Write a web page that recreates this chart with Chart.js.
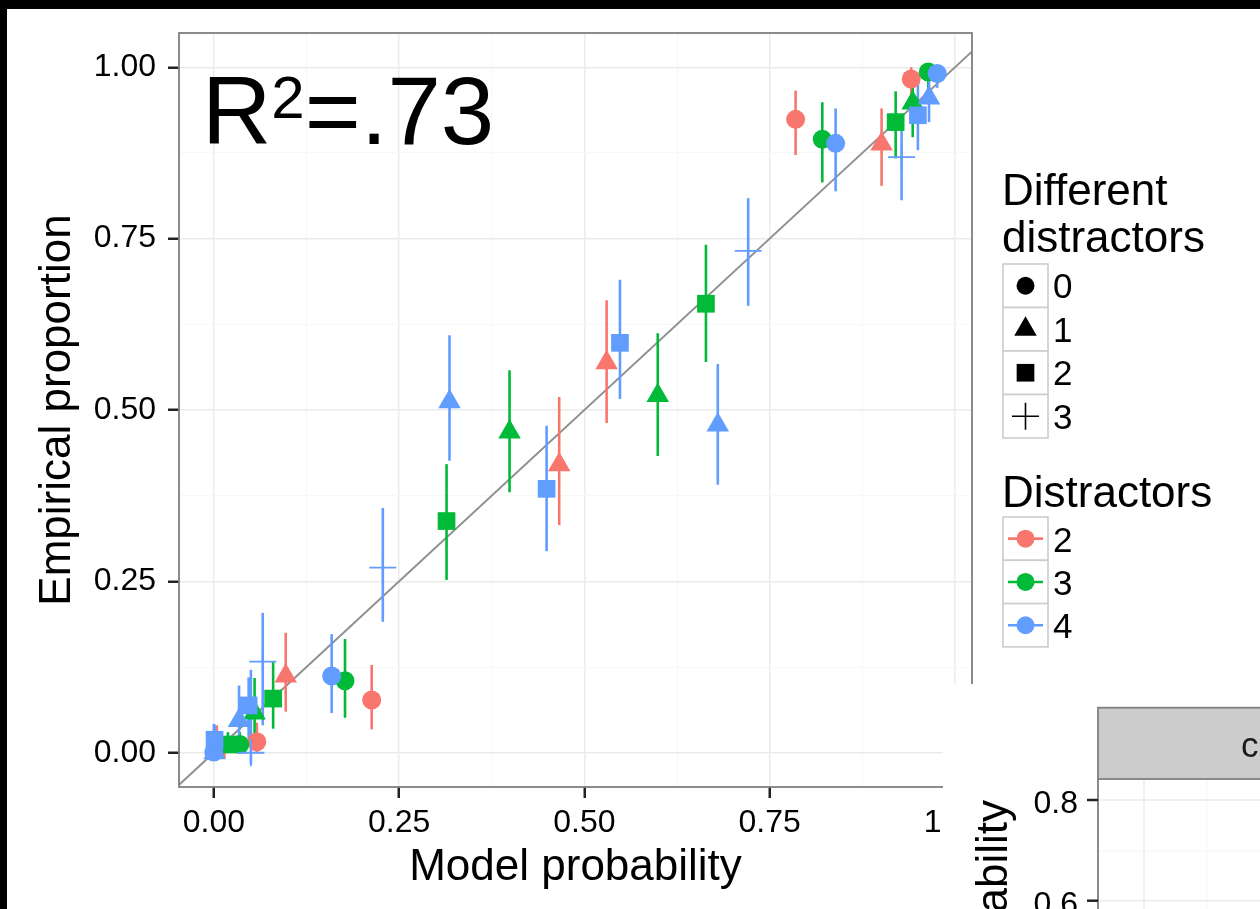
<!DOCTYPE html>
<html>
<head>
<meta charset="utf-8">
<script src="https://cdn.jsdelivr.net/npm/chart.js@4.4.0/dist/chart.umd.min.js"></script>
<style>
  html, body { margin: 0; padding: 0; background: #000; }
  #wrap { position: absolute; left: 7px; top: 9px; width: 1253px; height: 900px; background: #fff; overflow: hidden; }
</style>
</head>
<body>
<div id="wrap"><canvas id="grafico" width="1253" height="900"></canvas></div>
<script>
// Limites dos eixos e marcas
const xMin = -0.047, xMax = 1.023;
const yMin = -0.05, yMax = 1.05;
const majorTicks = [0, 0.25, 0.5, 0.75, 1];
const tickStep = 0.125;

// Legendas
const diffLabels = ['0', '1', '2', '3'];
const distLabels = ['2', '3', '4'];
const distColors = ['#F8766D', '#00BA38', '#619CFF'];
const shapeStyles = ['circle', 'triangle', 'rect', 'cross'];
const shapeRadius = [9.5, 13, 12.5, 13.5];

// Linha y = x
const diagLine = [-0.1, 1.1];

// Pontos: [modelo, empírico, IC inferior, IC superior]
// Distractors = 2
const d2Diff0 = [
  [0.785, 0.924, 0.872, 0.966],
  [0.941, 0.983, 0.956, 1.000],
  [0.213, 0.077, 0.034, 0.128],
  [0.058, 0.016, 0.001, 0.044]
];
const d2Diff1 = [
  [0.901, 0.888, 0.827, 0.940],
  [0.530, 0.569, 0.481, 0.660],
  [0.466, 0.420, 0.332, 0.519],
  [0.097, 0.112, 0.060, 0.175]
];
const d2Diff2 = [
  [0.004, 0.004, 0.000, 0.040]
];
// Distractors = 3
const d3Diff0 = [
  [0.821, 0.895, 0.832, 0.949],
  [0.964, 0.993, 0.965, 1.000],
  [0.177, 0.105, 0.051, 0.166],
  [0.035, 0.012, 0.000, 0.030]
];
const d3Diff1 = [
  [0.943, 0.948, 0.898, 0.977],
  [0.599, 0.521, 0.433, 0.612],
  [0.399, 0.468, 0.380, 0.558],
  [0.055, 0.058, 0.008, 0.109]
];
const d3Diff2 = [
  [0.920, 0.920, 0.867, 0.965],
  [0.664, 0.655, 0.570, 0.741],
  [0.314, 0.338, 0.252, 0.421],
  [0.080, 0.079, 0.035, 0.133],
  [0.019, 0.012, 0.000, 0.030]
];
// Distractors = 4
const d4Diff0 = [
  [0.839, 0.889, 0.819, 0.940],
  [0.976, 0.991, 0.970, 1.000],
  [0.159, 0.112, 0.058, 0.173],
  [0.000, 0.001, -0.010, 0.042]
];
const d4Diff1 = [
  [0.965, 0.955, 0.920, 0.991],
  [0.680, 0.478, 0.391, 0.567],
  [0.318, 0.512, 0.426, 0.609],
  [0.034, 0.047, 0.012, 0.098],
  [0.001, 0.000, -0.010, 0.020]
];
const d4Diff2 = [
  [0.950, 0.930, 0.879, 0.977],
  [0.548, 0.598, 0.516, 0.690],
  [0.449, 0.385, 0.294, 0.477],
  [0.047, 0.069, 0.020, 0.110],
  [0.001, 0.019, 0.000, 0.041]
];
const d4Diff3 = [
  [0.928, 0.869, 0.806, 0.923],
  [0.721, 0.732, 0.652, 0.809],
  [0.228, 0.270, 0.191, 0.357],
  [0.066, 0.133, 0.040, 0.204],
  [0.050, 0.000, -0.017, 0.121]
];

// ordem de desenho: vermelho embaixo, azul em cima
const series = [
  { dist: 0, diff: 0, pts: d2Diff0 },
  { dist: 0, diff: 1, pts: d2Diff1 },
  { dist: 0, diff: 2, pts: d2Diff2 },
  { dist: 1, diff: 0, pts: d3Diff0 },
  { dist: 1, diff: 1, pts: d3Diff1 },
  { dist: 1, diff: 2, pts: d3Diff2 },
  { dist: 2, diff: 0, pts: d4Diff0 },
  { dist: 2, diff: 1, pts: d4Diff1 },
  { dist: 2, diff: 2, pts: d4Diff2 },
  { dist: 2, diff: 3, pts: d4Diff3 }
];

const fonte = "'Liberation Sans', Arial, Helvetica, sans-serif";
Chart.defaults.font.family = fonte;
Chart.defaults.color = '#000';

function isMajor(v) {
  return majorTicks.some(m => Math.abs(m - v) < 1e-6);
}

const datasets = series.map((s, i) => ({
  label: `Distractors ${distLabels[s.dist]} / Different ${diffLabels[s.diff]}`,
  data: s.pts.map(p => ({ x: p[0], y: p[1] })),
  pointStyle: shapeStyles[s.diff],
  pointRadius: shapeRadius[s.diff],
  pointHoverRadius: shapeRadius[s.diff],
  backgroundColor: distColors[s.dist],
  borderColor: distColors[s.dist],
  borderWidth: s.diff === 3 ? 1.8 : 0,
  clip: 0,
  order: series.length - i
}));

datasets.push({
  type: 'line',
  label: 'y = x',
  data: diagLine.map(v => ({ x: v, y: v })),
  borderColor: '#8F8F8F',
  borderWidth: 2,
  pointRadius: 0,
  clip: 0,
  order: 100
});

// Barras de erro (desenhadas logo depois da diagonal, antes dos pontos)
const barrasErro = {
  id: 'barrasErro',
  afterDatasetDraw(chart, args) {
    if (args.meta.type !== 'line') return;
    const { ctx, chartArea, scales: { x, y } } = chart;
    ctx.save();
    ctx.beginPath();
    ctx.rect(chartArea.left, chartArea.top, chartArea.right - chartArea.left, chartArea.bottom - chartArea.top);
    ctx.clip();
    ctx.lineWidth = 2.6;
    series.forEach(s => {
      ctx.strokeStyle = distColors[s.dist];
      s.pts.forEach(p => {
        const px = x.getPixelForValue(p[0]);
        ctx.beginPath();
        ctx.moveTo(px, y.getPixelForValue(p[2]));
        ctx.lineTo(px, y.getPixelForValue(p[3]));
        ctx.stroke();
      });
    });
    ctx.restore();
  }
};

// Borda do painel e anotação R²
const painel = {
  id: 'painel',
  afterDatasetsDraw(chart) {
    const { ctx, chartArea } = chart;
    ctx.save();
    ctx.fillStyle = '#000';
    ctx.textBaseline = 'alphabetic';
    ctx.textAlign = 'left';
    let tx = chartArea.left + 23;
    const ty = chartArea.top + 111;
    ctx.font = `96px ${fonte}`;
    ctx.fillText('R', tx, ty);
    tx += ctx.measureText('R').width;
    ctx.font = `60px ${fonte}`;
    ctx.fillText('2', tx, ty - 26);
    tx += ctx.measureText('2').width;
    ctx.font = `96px ${fonte}`;
    ctx.fillText('=.73', tx, ty);

    ctx.strokeStyle = '#7F7F7F';
    ctx.lineWidth = 1.8;
    ctx.strokeRect(chartArea.left, chartArea.top, chartArea.right - chartArea.left, chartArea.bottom - chartArea.top);
    ctx.restore();
  }
};

// Legendas à direita + pedaço da figura vizinha
const legendas = {
  id: 'legendas',
  afterDraw(chart) {
    const ctx = chart.ctx;
    const boxX = 996, boxW = 45, keyX = boxX + boxW / 2, labelX = 1046;
    ctx.save();
    ctx.fillStyle = '#000';
    ctx.textAlign = 'left';
    ctx.textBaseline = 'alphabetic';
    ctx.font = `44px ${fonte}`;
    ctx.fillText('Different', 995, 196);
    ctx.fillText('distractors', 995, 243);

    const h1 = 43.5, top1 = 255;
    diffLabels.forEach((lab, i) => {
      const by = top1 + i * h1;
      ctx.fillStyle = '#fff';
      ctx.fillRect(boxX, by, boxW, h1);
      ctx.strokeStyle = '#CCCCCC';
      ctx.lineWidth = 1.6;
      ctx.strokeRect(boxX, by, boxW, h1);
      ctx.fillStyle = '#000';
      ctx.strokeStyle = '#000';
      ctx.lineWidth = 1.6;
      Chart.helpers.drawPoint(ctx, {
        pointStyle: shapeStyles[i], radius: i === 0 ? 9 : shapeRadius[i],
        rotation: 0, borderWidth: i === 3 ? 1.6 : 0
      }, keyX, by + h1 / 2);
      ctx.font = `35px ${fonte}`;
      ctx.fillText(lab, labelX, by + h1 / 2 + 12.5);
    });

    ctx.font = `44px ${fonte}`;
    ctx.fillText('Distractors', 995, 498);
    const h2 = 43.3, top2 = 508;
    distLabels.forEach((lab, i) => {
      const by = top2 + i * h2;
      const cy = by + h2 / 2;
      ctx.fillStyle = '#fff';
      ctx.fillRect(boxX, by, boxW, h2);
      ctx.strokeStyle = '#CCCCCC';
      ctx.lineWidth = 1.6;
      ctx.strokeRect(boxX, by, boxW, h2);
      ctx.strokeStyle = distColors[i];
      ctx.lineWidth = 2.6;
      ctx.beginPath();
      ctx.moveTo(boxX + 5, cy);
      ctx.lineTo(boxX + boxW - 5, cy);
      ctx.stroke();
      ctx.fillStyle = distColors[i];
      ctx.beginPath();
      ctx.arc(keyX, cy, 9, 0, Math.PI * 2);
      ctx.fill();
      ctx.fillStyle = '#000';
      ctx.font = `35px ${fonte}`;
      ctx.fillText(lab, labelX, cy + 13);
    });

    // figura vizinha sobreposta (canto inferior direito)
    ctx.fillStyle = '#fff';
    ctx.fillRect(936, 675, 317, 225);
    const pLeft = 1091, pTop = 770;
    ctx.lineWidth = 1;
    ctx.strokeStyle = '#F5F5F5';
    [[pLeft, 842, 1253, 842], [1200, pTop, 1200, 900]].forEach(l => {
      ctx.beginPath(); ctx.moveTo(l[0], l[1]); ctx.lineTo(l[2], l[3]); ctx.stroke();
    });
    ctx.lineWidth = 1.5;
    ctx.strokeStyle = '#EBEBEB';
    [[pLeft, 791, 1253, 791], [pLeft, 891.7, 1253, 891.7], [1137, pTop, 1137, 900]].forEach(l => {
      ctx.beginPath(); ctx.moveTo(l[0], l[1]); ctx.lineTo(l[2], l[3]); ctx.stroke();
    });
    ctx.fillStyle = '#CCCCCC';
    ctx.fillRect(pLeft, 698.7, 170, pTop - 698.7);
    ctx.strokeStyle = '#7F7F7F';
    ctx.lineWidth = 1.8;
    ctx.strokeRect(pLeft, 698.7, 170, pTop - 698.7);
    ctx.beginPath(); ctx.moveTo(pLeft, pTop); ctx.lineTo(pLeft, 905); ctx.stroke();
    ctx.strokeStyle = '#222';
    ctx.lineWidth = 2.5;
    [791, 891.7].forEach(ty => {
      ctx.beginPath(); ctx.moveTo(pLeft - 11, ty); ctx.lineTo(pLeft, ty); ctx.stroke();
    });
    ctx.fillStyle = '#1a1a1a';
    ctx.font = `35px ${fonte}`;
    ctx.fillText('c', 1234, 748);
    ctx.fillStyle = '#000';
    ctx.font = `32px ${fonte}`;
    ctx.textAlign = 'right';
    ctx.fillText('0.8', 1071, 804);
    ctx.fillText('0.6', 1071, 905);
    ctx.save();
    ctx.translate(1000, 791);
    ctx.rotate(-Math.PI / 2);
    ctx.font = `44px ${fonte}`;
    ctx.textAlign = 'right';
    ctx.fillText('Model probability', 0, 0);
    ctx.restore();
    ctx.restore();
  }
};

function gridColor(c) {
  if (!c.tick) return 'rgba(0,0,0,0)';
  return isMajor(c.tick.value) ? '#EBEBEB' : '#F7F7F7';
}
function gridWidth(c) {
  return c.tick && isMajor(c.tick.value) ? 1.5 : 1;
}
function tickWidth(c) {
  return c.tick && isMajor(c.tick.value) ? 2.5 : 0;
}

new Chart(document.getElementById('grafico'), {
  type: 'scatter',
  data: { datasets: datasets },
  options: {
    responsive: false,
    animation: false,
    events: [],
    layout: { padding: { top: 24, right: 288, left: 0, bottom: 0 } },
    plugins: {
      legend: { display: false },
      tooltip: { enabled: false }
    },
    scales: {
      x: {
        type: 'linear',
        min: xMin,
        max: xMax,
        afterFit: s => { s.height = 122; s.paddingLeft = 0; s.paddingRight = 0; },
        border: { display: false },
        grid: { color: gridColor, lineWidth: gridWidth, tickLength: 11, tickColor: '#222', tickWidth: tickWidth },
        ticks: {
          stepSize: tickStep, includeBounds: false, autoSkip: false, maxRotation: 0, minRotation: 0,
          padding: 6, color: '#000', font: { size: 32 },
          callback: v => isMajor(v) ? v.toFixed(2) : ''
        },
        title: { display: true, text: 'Model probability', color: '#000', font: { size: 44 }, padding: { top: 0, bottom: 15 } }
      },
      y: {
        type: 'linear',
        min: yMin,
        max: yMax,
        afterFit: s => { s.width = 172; s.paddingTop = 0; s.paddingBottom = 0; },
        border: { display: false },
        grid: { color: gridColor, lineWidth: gridWidth, tickLength: 11, tickColor: '#222', tickWidth: tickWidth },
        ticks: {
          stepSize: tickStep, includeBounds: false, autoSkip: false,
          padding: 12, color: '#000', font: { size: 32 },
          callback: v => isMajor(v) ? v.toFixed(2) : ''
        },
        title: { display: true, text: 'Empirical proportion', color: '#000', font: { size: 44 }, padding: { top: 24, bottom: 0 } }
      }
    }
  },
  plugins: [barrasErro, painel, legendas]
});
</script>
</body>
</html>
